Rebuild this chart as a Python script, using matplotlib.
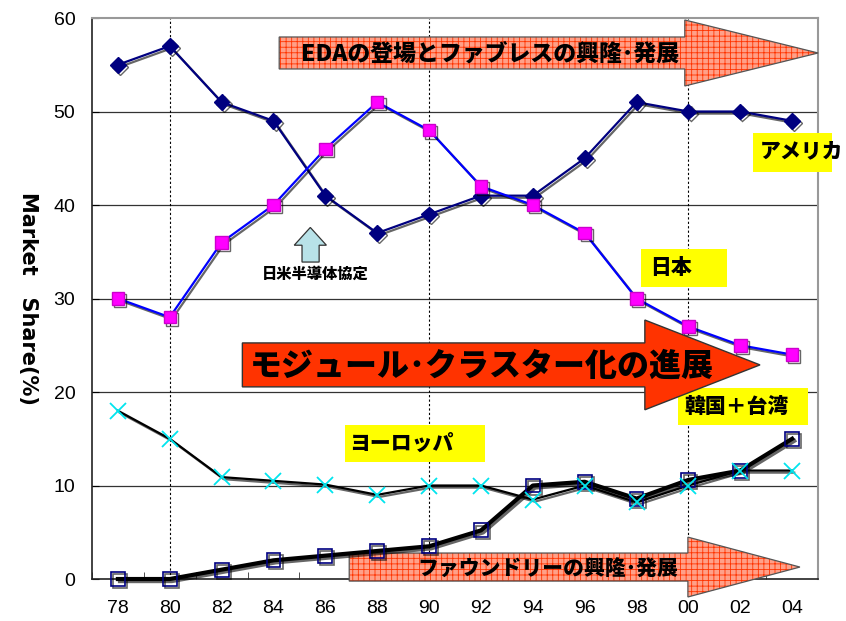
import numpy as np
import matplotlib
matplotlib.use("Agg")
import matplotlib.pyplot as plt
from matplotlib.patches import Polygon, Rectangle
import matplotlib.patheffects as pe

plt.rcParams['font.family'] = ['Noto Sans CJK JP', 'DejaVu Sans']
plt.rcParams['hatch.linewidth'] = 0.6

years = ['78', '80', '82', '84', '86', '88', '90', '92', '94', '96', '98', '00', '02', '04']
america = [55, 57, 51, 49, 41, 37, 39, 41, 41, 45, 51, 50, 50, 49]
japan = [30, 28, 36, 40, 46, 51, 48, 42, 40, 37, 30, 27, 25, 24]
europe = [18, 15, 10.9, 10.5, 10.1, 9, 10, 10, 8.5, 10, 8.2, 10, 11.6, 11.6]
korea_taiwan = [0, 0, 1, 2, 2.5, 3, 3.5, 5.2, 10, 10.4, 8.6, 10.6, 11.6, 15]
dotted_years = ['80', '90', '00']

x = np.arange(len(years))

fig = plt.figure(figsize=(8.46, 6.21), dpi=100)
ax = fig.add_axes([0.1087, 0.0676, 0.8583, 0.9034])
ax.set_xlim(-0.5, len(years) - 0.5)
ax.set_ylim(0, 60)

for v in range(10, 60, 10):
    ax.axhline(v, color='#333333', lw=0.9, zorder=1)
for yr in dotted_years:
    ax.axvline(years.index(yr), color='black', lw=0.8, ls=(0, (2, 2)), zorder=1)

shadow = [pe.SimpleLineShadow(offset=(1.5, -1.5), shadow_color='black', alpha=0.6), pe.Normal()]

ax.plot(x, america, color='#000080', lw=1.6, marker='D', ms=8,
        mfc='#000080', mec='#000080', zorder=4, path_effects=shadow)
ax.plot(x, japan, color='#0000FF', lw=1.6, marker='s', ms=9,
        mfc='#FF00FF', mec='#CC00CC', zorder=4, path_effects=shadow)
ax.plot(x, europe, color='black', lw=1.6, zorder=4, path_effects=shadow)
ax.plot(x, europe, ls='none', marker='x', ms=12, mew=1.3, color='#00E5EE',
        zorder=6, clip_on=False)
ax.plot(x, korea_taiwan, color='black', lw=3, marker='s', ms=10,
        mfc='none', mec='#000080', mew=1.2, zorder=5, path_effects=shadow,
        clip_on=False)


def block_arrow(x0, xh, xt, yc, hb, hh, face, hatch=None, z=3):
    pts = [(x0, yc - hb), (xh, yc - hb), (xh, yc - hh), (xt, yc),
           (xh, yc + hh), (xh, yc + hb), (x0, yc + hb)]
    if hatch:
        ax.add_patch(Polygon(pts, closed=True, facecolor=face, edgecolor='#FF3300',
                             hatch=hatch, lw=0, zorder=z, clip_on=False))
        ax.add_patch(Polygon(pts, closed=True, facecolor='none', edgecolor='#555555',
                             lw=0.9, zorder=z, clip_on=False))
    else:
        ax.add_patch(Polygon(pts, closed=True, facecolor=face, edgecolor='#333333',
                             lw=1.0, zorder=z, clip_on=False))


# top arrow: EDA / fabless
block_arrow(3.11, 10.93, 13.5, 56.26, 1.71, 3.53, '#FFA088', hatch='+++', z=3)
ax.text(7.17, 56.1, 'EDAの登場とファブレスの興隆･発展', ha='center', va='center',
        fontsize=16.5, fontweight='heavy', zorder=7)

# middle arrow: modularisation / clusters
block_arrow(2.40, 10.16, 12.38, 22.9, 2.35, 4.8, '#FF3300', z=8)
ax.text(2.55, 22.8, 'モジュール･クラスター化の進展', ha='left', va='center',
        fontsize=23, fontweight='heavy', zorder=9)

# bottom arrow: foundries
block_arrow(4.46, 10.99, 13.15, 1.28, 1.5, 3.2, '#FFA088', hatch='+++', z=3)
ax.text(8.3, 1.0, 'ファウンドリーの興隆･発展', ha='center', va='center',
        fontsize=15, fontweight='heavy', zorder=7)

# region labels on yellow boxes
labels = [
    ('アメリカ', 12.25, 13.77, 43.5, 47.7, 12.38, 45.7),
    ('日本', 10.08, 11.74, 31.2, 35.3, 10.26, 33.3),
    ('韓国＋台湾', 10.8, 13.3, 16.5, 20.4, 10.93, 18.4),
    ('ヨーロッパ', 4.37, 7.07, 12.5, 16.5, 4.46, 14.5),
]
for name, x0, x1, y0, y1, tx, ty in labels:
    ax.add_patch(Rectangle((x0, y0), x1 - x0, y1 - y0, facecolor='#FFFF00',
                           edgecolor='none', zorder=7, clip_on=False))
    ax.text(tx, ty, name, ha='left', va='center', fontsize=15,
            fontweight='heavy', zorder=7, clip_on=False)

# trade agreement marker
up = [(3.55, 33.9), (3.88, 33.9), (3.88, 35.7), (4.02, 35.7), (3.71, 37.6),
      (3.40, 35.7), (3.55, 35.7)]
ax.add_patch(Polygon(up, closed=True, facecolor='#B8E2E8', edgecolor='#333333',
                     lw=0.9, zorder=6))
ax.text(3.8, 32.6, '日米半導体協定', ha='center', va='center', fontsize=11,
        fontweight='heavy', zorder=7)

ax.set_xticks(x)
ax.set_xticklabels(years, family='Liberation Sans', fontsize=14)
ax.set_xticks(np.arange(-0.5, len(years), 1), minor=True)
ax.tick_params(axis='x', which='major', length=0, pad=15)
ax.tick_params(axis='x', which='minor', direction='in', length=5, color='#333333')
ax.set_yticks(range(0, 61, 10))
ax.set_yticklabels([str(v) for v in range(0, 61, 10)], family='Liberation Sans', fontsize=14)
ax.tick_params(axis='y', direction='in', length=5, pad=12)

ax.spines['left'].set_color('#222222')
ax.spines['bottom'].set_color('#222222')
ax.spines['top'].set_color('#999999')
ax.spines['right'].set_color('#999999')
ax.spines['left'].set_linewidth(1.2)
ax.spines['bottom'].set_linewidth(1.2)
ax.spines['top'].set_linewidth(1.5)
ax.spines['right'].set_linewidth(1.5)

fig.text(0.033, 0.52, 'Market   Share(%)', rotation=270, ha='center', va='center',
         fontsize=15, fontweight='bold', family='DejaVu Sans')

fig.savefig('out.png', dpi=100)
